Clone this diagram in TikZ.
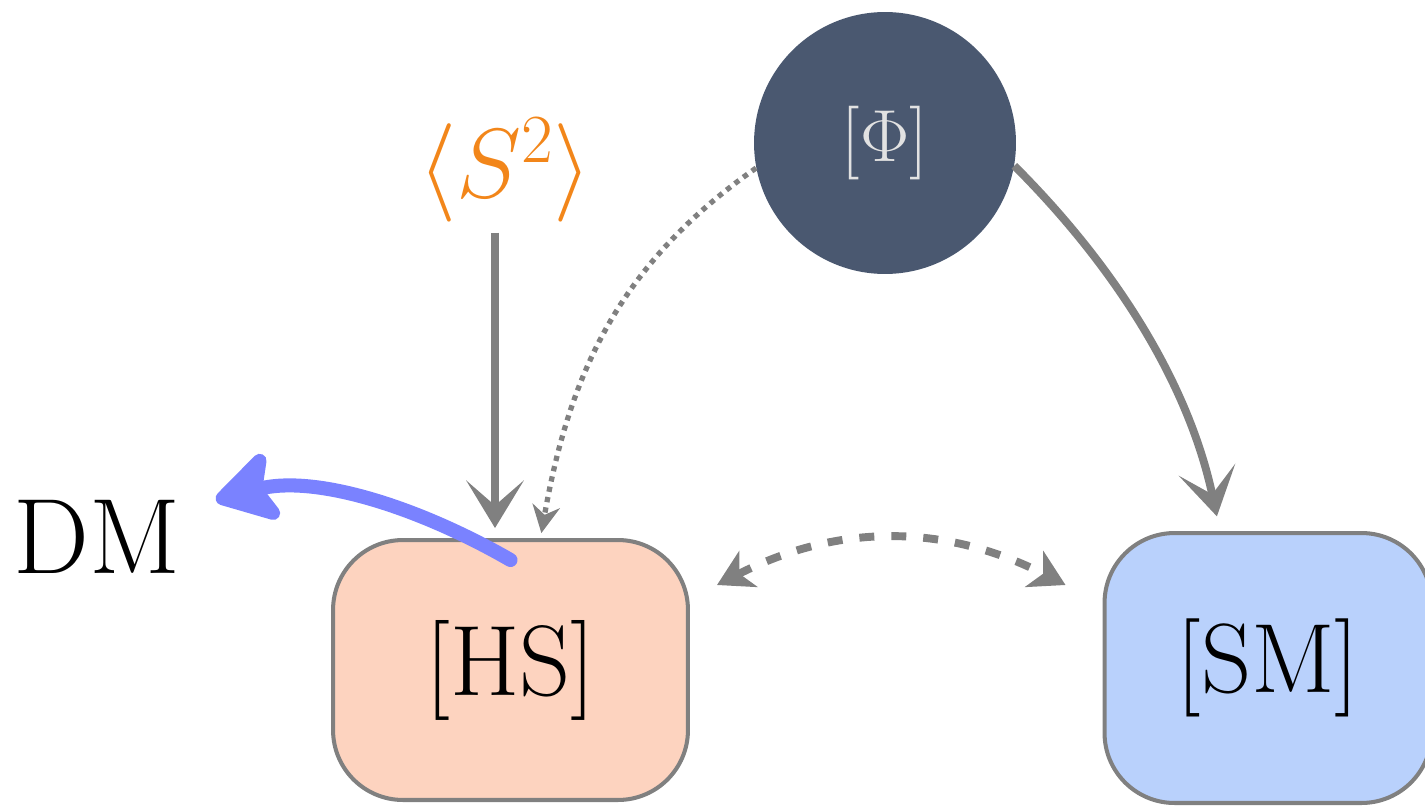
\RequirePackage{fix-cm}
\documentclass[tikz,border=0pt]{standalone}
\usepackage{fontspec}
\usepackage{amsmath}
\usetikzlibrary{arrows.meta}

\definecolor{phiblue}{RGB}{74,88,112}
\definecolor{phitext}{RGB}{226,226,226}
\definecolor{sorange}{RGB}{242,134,26}
\definecolor{hsfill}{RGB}{253,211,191}
\definecolor{smfill}{RGB}{185,209,252}
\definecolor{linegray}{RGB}{128,128,128}
\definecolor{dmblue}{RGB}{122,130,255}

\begin{document}
\begin{tikzpicture}[x=0.02cm, y=0.02cm,
	box/.style={draw=linegray, line width=2.3pt, rounded corners=1.4cm, minimum width=7.1cm, minimum height=5.2cm},
	pencil/.style={draw=linegray, line width=4.5pt, -{Stealth[length=0.95cm, width=1.15cm, inset=0.5cm]}},
	dotlink/.style={draw=linegray, line width=3pt, dash pattern=on 3pt off 3pt, -{Stealth[length=0.55cm, width=0.55cm]}},
	dashlink/.style={draw=linegray, line width=4.5pt, dash pattern=on 0.3cm off 0.34cm, {Stealth[length=0.7cm, width=0.8cm, inset=0.2cm]}-{Stealth[length=0.7cm, width=0.8cm, inset=0.2cm]}},
	dmarrow/.style={draw=dmblue, line width=8pt, line cap=round, -{Stealth[length=1.45cm, width=1.7cm, inset=0.35cm, round]}}]
	\clip (0,0) rectangle (1425,806);
	\useasboundingbox (0,0) rectangle (1425,806);

	% sectors
	\node[circle, fill=phiblue, minimum size=5.24cm, inner sep=0pt] (phi) at (885,663) {\fontsize{42}{46}\selectfont\color{phitext}$[\Phi]$};
	\node[inner sep=0pt, text=sorange] (s2) at (505,636) {\fontsize{56}{60}\selectfont$\langle S^2\rangle$};
	\node[box, fill=hsfill] (hs) at (510.5,136) {\fontsize{57}{62}\selectfont\raisebox{8pt}{[HS]}};
	\node[box, fill=smfill, minimum width=6.54cm, minimum height=5.4cm] (sm) at (1268,138) {\fontsize{56}{60}\selectfont [SM]};
	\node[inner sep=0pt] (dm) at (97,269) {\fontsize{61}{66}\selectfont DM};

	% <S^2> straight down onto HS
	\draw[pencil, shorten <=0.2cm, shorten >=0.2cm] ([xshift=-0.2cm]s2.south) -- ([xshift=-0.2cm]s2.south |- hs.north);
	% Phi feeds both sectors
	\draw[dotlink, shorten >=0.1cm] (phi.191) to[out=215, in=80] ([xshift=0.6cm]hs.north);
	\draw[pencil, shorten >=0.3cm] (phi.350) to[out=-45, in=102, looseness=0.9] ([xshift=-0.96cm]sm.north);

	% exchange between HS and SM
	\coordinate (hsR) at ([shift={(27,85)}]hs.east);
	\coordinate (smL) at ([shift={(-37,83)}]sm.west);
	\draw[dashlink] (hsR) to[bend left=27] (smL);

	% DM out of the hidden sector
	\draw[dmarrow] ([yshift=-0.44cm]hs.north) .. controls +(-90,52) and +(100,26) .. ([xshift=0.7cm]dm.north east);
\end{tikzpicture}
\end{document}
